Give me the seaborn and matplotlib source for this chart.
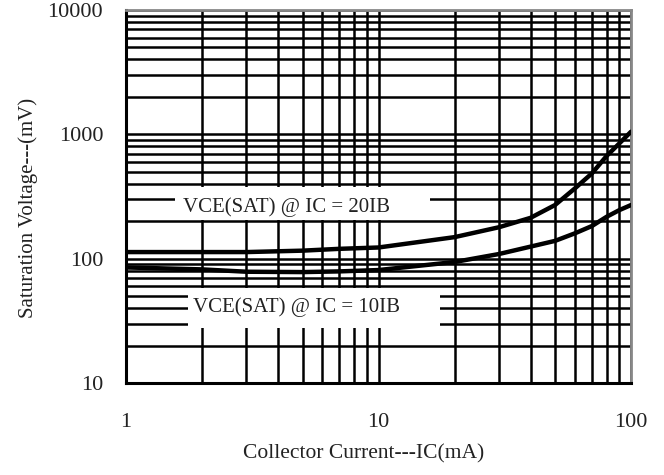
import matplotlib
matplotlib.use("Agg")
import matplotlib.pyplot as plt
import seaborn as sns
import pandas as pd
from matplotlib.patches import Rectangle
from matplotlib.ticker import LogLocator, FixedLocator, NullFormatter

# Data
ic_ma = [1, 2, 3, 5, 7, 10, 20, 30, 40, 50, 60, 70, 80, 90, 100]
vce_20ib = [113, 113, 113, 116, 120, 123, 149, 179, 213, 270, 368, 485, 669, 847, 1050]
vce_10ib = [85, 82, 78.5, 78, 79, 81, 94, 109, 125, 139, 160, 183, 217, 246, 270]
label_20 = "VCE(SAT) @ IC = 20IB"
label_10 = "VCE(SAT) @ IC = 10IB"
x_ticks = [1, 10, 100]
x_ticklabels = ["1", "10", "100"]
y_ticks = [10, 100, 1000, 10000]
y_ticklabels = ["10", "100", "1000", "10000"]

df = pd.DataFrame({
    "IC": ic_ma * 2,
    "V": vce_20ib + vce_10ib,
    "series": ["20IB"] * len(ic_ma) + ["10IB"] * len(ic_ma),
})

sns.set_theme(style="white")
plt.rcParams["font.family"] = ["Liberation Serif", "DejaVu Serif"]

fig = plt.figure(figsize=(6.64, 4.75), dpi=100)
ax = fig.add_axes([0.1898, 0.1937, 0.7605, 0.7852])

sns.lineplot(data=df, x="IC", y="V", hue="series", palette={"20IB": "black", "10IB": "black"},
             linewidth=3.2, legend=False, ax=ax, zorder=4)

ax.set_xscale("log")
ax.set_yscale("log")
ax.set_xlim(1, 100)
ax.set_ylim(10, 10000)

ax.xaxis.set_major_locator(FixedLocator(x_ticks))
ax.set_xticklabels(x_ticklabels)
ax.yaxis.set_major_locator(FixedLocator(y_ticks))
ax.set_yticklabels(y_ticklabels)
ax.xaxis.set_minor_locator(LogLocator(base=10, subs=range(2, 10)))
ax.yaxis.set_minor_locator(LogLocator(base=10, subs=range(2, 10)))
ax.xaxis.set_minor_formatter(NullFormatter())
ax.yaxis.set_minor_formatter(NullFormatter())

ax.grid(True, which="both", color="black", linewidth=1.8)
ax.set_axisbelow(True)

ax.tick_params(axis="both", which="both", length=0, labelsize=16, colors="#222222")
ax.tick_params(axis="x", pad=21.5)
ax.tick_params(axis="y", pad=16.5)

for side in ["left", "bottom"]:
    ax.spines[side].set_color("black")
    ax.spines[side].set_linewidth(2.2)
for side in ["top", "right"]:
    ax.spines[side].set_color("#888888")
    ax.spines[side].set_linewidth(2.0)

ax.set_xlabel("Collector Current---IC(mA)", fontsize=15.5, color="#222222")
ax.set_ylabel("Saturation Voltage---(mV)", fontsize=15, color="#222222")
ax.xaxis.set_label_coords(0.47, -0.165)
ax.yaxis.set_label_coords(-0.175, 0.47)

# white label boxes
ax.add_patch(Rectangle((0.097, 0.437), 0.505, 0.088, transform=ax.transAxes,
                       facecolor="white", edgecolor="none", zorder=2.5))
ax.add_patch(Rectangle((0.123, 0.147), 0.499, 0.108, transform=ax.transAxes,
                       facecolor="white", edgecolor="none", zorder=2.5))
ax.text(0.113, 0.471, label_20, transform=ax.transAxes, fontsize=15, color="#222222",
        ha="left", va="center", zorder=3)
ax.text(0.133, 0.203, label_10, transform=ax.transAxes, fontsize=15, color="#222222",
        ha="left", va="center", zorder=3)

fig.savefig("out.png", dpi=100)
